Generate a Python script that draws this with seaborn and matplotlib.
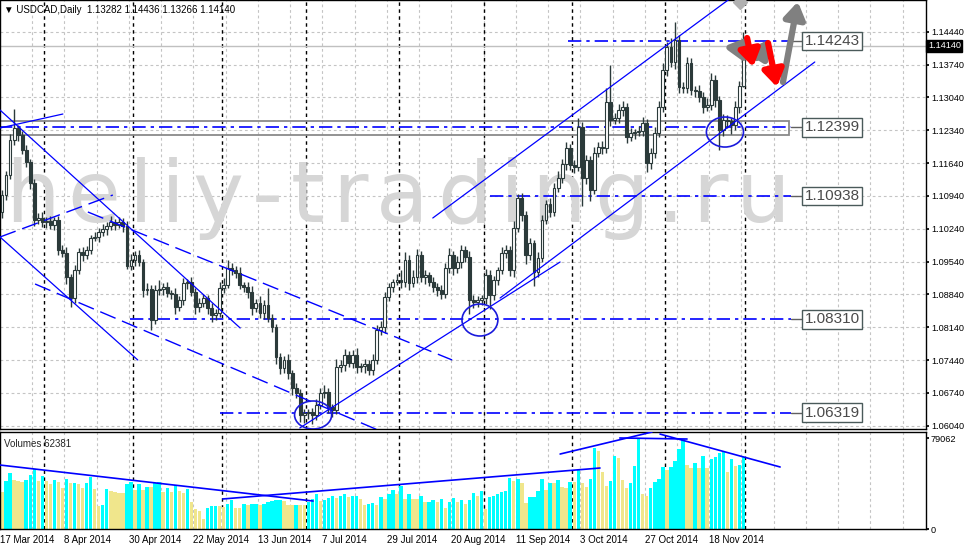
import numpy as np
import pandas as pd
import seaborn as sns
import matplotlib.pyplot as plt
from matplotlib.patches import Ellipse, Rectangle
from matplotlib.transforms import blended_transform_factory

# ---- data (17 Mar 2014 .. 28 Nov 2014) ----
first_open = 1.1060
closes = [1.1096, 1.1139, 1.1213, 1.1239, 1.1224, 1.1192, 1.1166, 1.1121, 1.1043, 1.1047,
          1.1038, 1.1041, 1.1032, 1.1043, 1.0979, 1.0972, 1.0921, 1.0876, 1.0936, 1.0974,
          1.0968, 1.0979, 1.1004, 1.1006, 1.1017, 1.1023, 1.1030, 1.1038, 1.1032, 1.1038,
          1.1030, 1.0945, 1.0957, 1.0968, 1.0953, 1.0893, 1.0895, 1.0829, 1.0893, 1.0895,
          1.0900, 1.0887, 1.0885, 1.0857, 1.0872, 1.0908, 1.0910, 1.0889, 1.0857, 1.0866,
          1.0876, 1.0855, 1.0840, 1.0844, 1.0898, 1.0904, 1.0940, 1.0936, 1.0930, 1.0904,
          1.0900, 1.0889, 1.0855, 1.0866, 1.0844, 1.0861, 1.0834, 1.0814, 1.0750, 1.0727,
          1.0744, 1.0716, 1.0684, 1.0674, 1.0627, 1.0630, 1.0633, 1.0627, 1.0648, 1.0674,
          1.0676, 1.0644, 1.0637, 1.0729, 1.0733, 1.0755, 1.0738, 1.0755, 1.0729, 1.0731,
          1.0736, 1.0723, 1.0744, 1.0808, 1.0814, 1.0878, 1.0900, 1.0910, 1.0915, 1.0910,
          1.0957, 1.0908, 1.0921, 1.0968, 1.0921, 1.0925, 1.0910, 1.0900, 1.0893, 1.0885,
          1.0940, 1.0968, 1.0940, 1.0953, 1.0979, 1.0964, 1.0872, 1.0868, 1.0872, 1.0876,
          1.0925, 1.0883, 1.0915, 1.0936, 1.0972, 1.0979, 1.0936, 1.1026, 1.1089, 1.1053,
          1.0968, 1.0994, 1.0932, 1.0962, 1.1043, 1.1077, 1.1060, 1.1111, 1.1132, 1.1162,
          1.1196, 1.1160, 1.1156, 1.1241, 1.1132, 1.1170, 1.1107, 1.1185, 1.1198, 1.1195,
          1.1294, 1.1256, 1.1260, 1.1277, 1.1283, 1.1220, 1.1228, 1.1230, 1.1232, 1.1249,
          1.1164, 1.1185, 1.1228, 1.1283, 1.1362, 1.1411, 1.1379, 1.1426, 1.1326, 1.1324,
          1.1377, 1.1320, 1.1318, 1.1305, 1.1283, 1.1288, 1.1341, 1.1298, 1.1234, 1.1256,
          1.1253, 1.1245, 1.1283, 1.1328, 1.1414]
# wick lengths in pips above / below the candle body
upper_wick = [10, 8, 12, 40, 6, 8, 10, 6, 8, 10,
              12, 8, 10, 6, 8, 10, 12, 6, 10, 8,
              10, 8, 6, 12, 8, 10, 8, 12, 6, 10,
              8, 10, 12, 8, 10, 6, 14, 8, 12, 20,
              8, 10, 6, 12, 8, 10, 6, 12, 8, 10,
              8, 6, 10, 8, 12, 14, 18, 10, 8, 12,
              6, 10, 12, 8, 14, 10, 36, 8, 6, 10,
              8, 12, 6, 10, 8, 10, 6, 8, 12, 10,
              14, 8, 6, 18, 10, 12, 8, 10, 14, 6,
              10, 8, 12, 10, 14, 10, 8, 6, 12, 20,
              18, 10, 14, 12, 8, 10, 6, 10, 8, 12,
              10, 14, 8, 12, 10, 8, 12, 10, 8, 6,
              12, 10, 8, 6, 12, 10, 8, 14, 10, 12,
              8, 10, 6, 12, 10, 8, 12, 10, 14, 10,
              12, 8, 10, 20, 10, 12, 8, 14, 10, 12,
              30, 80, 10, 12, 14, 8, 10, 6, 12, 14,
              8, 10, 12, 14, 16, 10, 20, 38, 12, 10,
              14, 10, 8, 12, 10, 14, 16, 10, 8, 12,
              10, 8, 14, 10, 30]
lower_wick = [14, 10, 8, 10, 12, 8, 10, 12, 14, 8,
              10, 12, 8, 10, 12, 8, 14, 20, 10, 8,
              12, 8, 10, 6, 10, 8, 12, 8, 10, 6,
              12, 8, 10, 12, 8, 14, 10, 22, 8, 10,
              12, 8, 10, 14, 8, 10, 12, 8, 14, 10,
              8, 12, 14, 10, 8, 12, 6, 10, 12, 8,
              10, 12, 14, 8, 10, 12, 8, 10, 14, 12,
              10, 12, 14, 10, 16, 18, 12, 20, 10, 8,
              10, 12, 14, 8, 10, 12, 8, 10, 12, 10,
              14, 10, 12, 8, 10, 12, 8, 10, 6, 12,
              10, 14, 8, 12, 10, 14, 8, 10, 12, 10,
              8, 10, 14, 10, 12, 10, 30, 14, 12, 10,
              12, 30, 10, 12, 8, 10, 12, 14, 10, 12,
              20, 10, 30, 12, 10, 8, 12, 10, 8, 10,
              12, 10, 14, 10, 60, 12, 25, 10, 8, 12,
              10, 12, 8, 10, 12, 14, 10, 12, 8, 10,
              20, 12, 10, 8, 10, 12, 10, 14, 12, 10,
              10, 12, 14, 10, 12, 8, 10, 14, 43, 12,
              14, 20, 10, 12, 2]
# tick volume, thousands
volumes_k = [32.6, 41.9, 48.5, 42.7, 41.5, 41.0, 42.7, 47.1, 52.3, 41.9,
             46.2, 41.9, 38.9, 42.7, 40.7, 36.0, 43.6, 39.8, 40.2, 39.6,
             36.0, 39.8, 45.0, 34.9, 20.1, 20.9, 34.9, 33.1, 32.0, 31.7,
             31.1, 39.2, 41.3, 34.0, 38.9, 33.7, 36.6, 36.3, 40.1, 40.7,
             32.6, 36.0, 32.3, 38.4, 33.1, 31.1, 34.9, 23.8, 17.2, 16.0,
             8.7, 18.6, 19.8, 20.3, 19.8, 19.2, 22.1, 25.6, 18.6, 18.0,
             21.5, 20.9, 21.5, 22.1, 20.9, 22.1, 23.8, 24.7, 25.3, 25.6,
             24.4, 20.9, 20.7, 21.0, 20.8, 20.6, 23.3, 26.2, 30.8, 24.4,
             25.0, 26.7, 28.5, 27.3, 29.1, 30.2, 28.2, 28.6, 29.0, 26.2,
             20.9, 22.1, 22.3, 20.9, 28.2, 26.2, 30.8, 33.7, 30.2, 37.5,
             26.2, 30.8, 26.2, 26.0, 29.1, 23.3, 23.6, 25.0, 23.3, 26.2,
             18.6, 23.3, 27.3, 23.8, 25.3, 21.5, 25.6, 31.4, 29.1, 33.1,
             17.4, 28.2, 29.1, 30.2, 32.6, 33.4, 44.8, 41.9, 43.3, 39.8,
             23.0, 27.6, 28.2, 33.1, 43.6, 34.3, 40.4, 40.2, 42.7, 36.3,
             36.0, 41.3, 40.7, 51.4, 40.4, 36.9, 43.6, 70.4, 68.0, 50.0,
             37.5, 42.2, 63.9, 62.2, 42.7, 35.5, 40.4, 54.9, 79.062, 30.8,
             29.1, 36.0, 41.3, 43.6, 54.4, 51.4, 53.8, 59.6, 69.8, 78.5,
             55.8, 53.5, 57.8, 53.5, 63.7, 53.5, 61.0, 62.5, 66.0, 68.3,
             50.0, 61.0, 55.2, 55.8, 62.381]

price_ticks = [1.06040, 1.06740, 1.07440, 1.08140, 1.08840, 1.09540, 1.10240,
               1.10940, 1.11640, 1.12340, 1.13040, 1.13740, 1.14440]
last_price = 1.14140

# analyst's horizontal levels and where they start (bar index)
levels = [1.14243, 1.12399, 1.10938, 1.08310, 1.06319]
level_start = [140.5, -1, 121.1, 31.8, 54.1]
zone_low, zone_high = 1.12238, 1.12536

# trend lines (bar index, price)
solid_lines = [((106.9, 1.10468), (195.5, 1.16086)),
               ((73.9, 1.05991), (138.5, 1.09530)),
               ((123.6, 1.08762), (201.7, 1.13794)),
               ((-0.5, 1.12770), (59.1, 1.08123)),
               ((-0.5, 1.10063), (33.7, 1.07440)),
               ((-0.5, 1.12387), (15.1, 1.12685))]
dashed_lines = [((-0.5, 1.10063), (27.5, 1.10958)),
                ((21.3, 1.10596), (111.7, 1.07441)),
                ((8.2, 1.09061), (95.0, 1.05885))]
volume_lines = [((-0.5, 55800), (77.2, 24400)),
                ((54.8, 26200), (148.4, 53200)),
                ((138.5, 65400), (161.3, 84600)),
                ((153.3, 79400), (170.0, 78500)),
                ((163.3, 82800), (193.1, 54100))]
circles = [(77.2, 1.06268, 9.2, 0.00597),
           (118.6, 1.08293, 8.9, 0.00682),
           (179.4, 1.12301, 9.2, 0.00640)]
gray_arrows = [((182.4, 1.14007), (185.1, 1.14327)),
               ((187.3, 1.13879), (190.1, 1.14263)),
               ((193.8, 1.13367), (197.5, 1.15080))]
red_arrows = [((184.9, 1.14305), (186.4, 1.13687)),
              ((190.1, 1.14199), (192.3, 1.13261))]
watermark = 'heliy-trading.ru'

# ---- prepare ----
closes = np.array(closes)
opens = np.r_[first_open, closes[:-1]]
highs = np.maximum(opens, closes) + np.array(upper_wick) / 1e4
lows = np.minimum(opens, closes) - np.array(lower_wick) / 1e4
bars = np.arange(len(closes))
vol = np.array(volumes_k) * 1000
dates = pd.bdate_range("2014-03-17", periods=len(closes))

sns.set_theme(style="white")
plt.rcParams['font.family'] = ['Liberation Sans', 'DejaVu Sans']

W, H = 966, 547
fig = plt.figure(figsize=(W / 100, H / 100), dpi=100)
ax = fig.add_axes([0, 0.2157, 0.9586, 0.7843])
axv = fig.add_axes([0, 0.0329, 0.9586, 0.1773])

XMIN, XMAX = -0.5, 229.3
edge = '#2b3a3a'
grid_kw = dict(color='#c4c4c4', lw=0.8, ls=(0, (2.5, 2.5)), zorder=0.5)

for a in (ax, axv):
    for k in range(1, 29):
        a.axvline(8 * k - 0.5, **grid_kw)
for p in price_ticks:
    ax.axhline(p, **grid_kw)

# month separators
month_first = [i for i in range(1, len(dates)) if dates[i].month != dates[i - 1].month]
month_first.append(len(dates))
for a in (ax, axv):
    for i in month_first:
        a.axvline(i - 0.5, color='black', lw=1, ls=(0, (2.5, 2.5)), zorder=0.6)

# watermark, letter-spaced (drawn inside the axes so candles stay on top)
renderer = fig.canvas.get_renderer()
xpx = 5
for ch in watermark:
    t = ax.text(xpx / W, 1 - 222 / H, ch, transform=fig.transFigure, fontsize=62,
                family='DejaVu Sans', color='#d6d6d6', va='baseline', ha='left', zorder=1)
    xpx += t.get_window_extent(renderer).width + 8.0

# candles
up = closes >= opens
ax.vlines(bars, lows, highs, color=edge, lw=1, zorder=3)
ax.bar(bars[up], np.maximum(closes - opens, 0.00005)[up], bottom=opens[up], width=0.7,
       color='white', edgecolor=edge, lw=0.8, zorder=4)
ax.bar(bars[~up], (opens - closes)[~up], bottom=closes[~up], width=0.7,
       color=edge, edgecolor=edge, lw=0.8, zorder=4)

# levels, zone and labels
ax.add_patch(Rectangle((-1, zone_low), 196.3, zone_high - zone_low, fill=False,
                       ec='#8a8a8a', lw=1.3, zorder=2))
for lv, st in zip(levels, level_start):
    ax.plot([st, 195.8], [lv, lv], color='#0000ff', lw=1.2, ls=(0, (8, 3, 2, 3)), zorder=2)
    ax.plot([195.8, 199], [lv, lv], color='#606060', lw=1, zorder=2)
    ax.text(206.0, lv, f'{lv:.5f}', fontsize=11, color='#4a4a4a', ha='center', va='center',
            zorder=6, bbox=dict(boxstyle='square,pad=0.15', fc='white', ec='#4a5a5a', lw=1))
ax.axhline(last_price, color='#c0c0c0', lw=1, zorder=1.5)

for (x0, y0), (x1, y1) in solid_lines:
    ax.plot([x0, x1], [y0, y1], color='#0000ff', lw=0.9, zorder=5)
for (x0, y0), (x1, y1) in dashed_lines:
    ax.plot([x0, x1], [y0, y1], color='#0000ff', lw=1, ls=(0, (12, 5)), zorder=5)
for cx, cy, w, h in circles:
    ax.add_patch(Ellipse((cx, cy), w, h, fill=False, ec='#1a1adc', lw=1.2, zorder=5))
for arrows, col in ((gray_arrows, '#808080'), (red_arrows, '#ff0000')):
    for (x0, y0), (x1, y1) in arrows:
        ax.annotate('', xy=(x1, y1), xytext=(x0, y0), zorder=6,
                    arrowprops=dict(arrowstyle='-|>,head_length=0.7,head_width=0.45', lw=4.5,
                                    color=col, mutation_scale=14, shrinkA=0, shrinkB=0))
ax.plot([183.1], [1.1507], marker='D', ms=7, color='#b0b0b0', zorder=6)

ax.set_xlim(XMIN, XMAX)
ax.set_ylim(1.05969, 1.15116)
ax.yaxis.tick_right()
ax.set_yticks(price_ticks)
ax.set_yticklabels([f'{p:.5f}' for p in price_ticks])
ax.tick_params(axis='y', direction='out', length=2, pad=1.5, labelsize=6.6, colors='black')
ax.set_xticks([])
ax.text(1.002, last_price, f'{last_price:.5f}',
        transform=blended_transform_factory(ax.transAxes, ax.transData),
        fontsize=6.6, color='white', ha='left', va='center',
        bbox=dict(boxstyle='square,pad=0.15', fc='black', ec='black'))
ax.text(0.004, 0.988, '\u25bc USDCAD,Daily  1.13282 1.14436 1.13266 1.14140', transform=ax.transAxes,
        fontsize=7, color='black', ha='left', va='top')

# volumes
vol_df = pd.DataFrame({'bar': bars, 'volume': vol,
                       'dir': np.where(np.r_[False, vol[1:] > vol[:-1]], 'up', 'down')})
sns.barplot(data=vol_df, x='bar', y='volume', hue='dir', palette={'up': '#00ffff', 'down': '#f0e68c'},
            native_scale=True, width=0.85, dodge=False, saturation=1, linewidth=0,
            errorbar=None, legend=False, ax=axv, zorder=2)
for (x0, y0), (x1, y1) in volume_lines:
    axv.plot([x0, x1], [y0, y1], color='#0000ff', lw=1.2, zorder=5)
axv.set_xlim(XMIN, XMAX)
axv.set_ylim(0, 84600)
axv.set_xlabel('')
axv.set_ylabel('')
axv.yaxis.tick_right()
axv.set_yticks([0, 79062])
axv.set_yticklabels(['0', '79062'])
tick_pos = list(range(0, 185, 16))
axv.set_xticks([i - 0.5 for i in tick_pos])
axv.set_xticklabels([f'{dates[i].day} {dates[i]:%b %Y}' for i in tick_pos])
for lab in axv.get_xticklabels():
    lab.set_ha('left')
axv.tick_params(axis='x', direction='out', length=3, pad=1, labelsize=7, colors='black')
axv.tick_params(axis='y', direction='out', length=2, pad=1.5, labelsize=6.6, colors='black')
axv.text(0.004, 0.93, f'Volumes {int(vol[-1])}', transform=axv.transAxes,
         fontsize=7, ha='left', va='top')

for a in (ax, axv):
    for s in a.spines.values():
        s.set_color('black')
        s.set_linewidth(1)

fig.savefig('out.png', dpi=100, facecolor='white')
